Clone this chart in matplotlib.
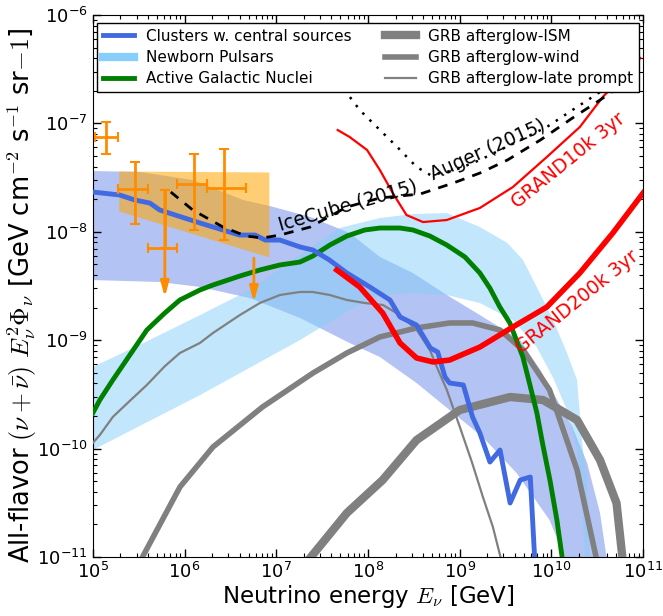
import numpy as np
import matplotlib
matplotlib.use("Agg")
import matplotlib.pyplot as plt
from matplotlib.lines import Line2D

plt.rcParams['mathtext.fontset'] = 'cm'
plt.rcParams['font.family'] = ['DejaVu Sans']
plt.rcParams['axes.unicode_minus'] = False

# ---- data (log10 E [GeV], log10 E^2 Phi [GeV cm^-2 s^-1 sr^-1]) ----
clusters_lx = [5.00, 5.29, 5.46, 5.62, 5.73, 6.17, 6.60, 6.77, 6.88, 7.04, 7.26, 7.40, 7.58, 7.77,
               8.02, 8.24, 8.35, 8.53, 8.68, 8.76, 8.84, 8.89, 9.04, 9.14, 9.22, 9.33, 9.44,
               9.55, 9.66, 9.77, 9.82]
clusters_ly = [-7.633, -7.660, -7.707, -7.734, -7.799, -7.919, -8.030, -8.030, -8.076, -8.076,
               -8.140, -8.168, -8.260, -8.380, -8.509, -8.629, -8.786, -8.860, -9.072, -9.109,
               -9.339, -9.395, -9.413, -9.708, -9.856, -10.124, -10.013, -10.502, -10.290,
               -10.262, -11.05]

clusters_band_up_lx = [5.00, 5.51, 6.09, 6.64, 6.93, 7.37, 7.80, 8.13, 8.49, 8.86, 9.22, 9.66,
                       9.88, 10.02, 10.23, 10.39, 10.53, 10.61]
clusters_band_up_ly = [-7.439, -7.448, -7.522, -7.707, -7.762, -7.863, -8.011, -8.232, -8.380,
                       -8.583, -8.768, -8.998, -9.275, -9.487, -9.801, -10.133, -10.594, -11.05]
clusters_band_lo_lx = [5.00, 5.73, 6.17, 6.71, 7.26, 7.80, 8.13, 8.53, 8.89, 9.25, 9.62, 9.98, 10.17]
clusters_band_lo_ly = [-8.445, -8.463, -8.509, -8.611, -8.795, -9.026, -9.155, -9.395, -9.644,
                       -9.893, -10.225, -10.659, -11.05]

pulsar_up_lx = [5.00, 5.62, 6.17, 6.71, 7.26, 7.69, 8.13, 8.49, 8.86, 9.22, 9.52, 9.69, 9.84,
                10.02, 10.17, 10.28, 10.34, 10.39, 10.42]
pulsar_up_ly = [-9.247, -8.998, -8.768, -8.537, -8.214, -7.965, -7.873, -7.836, -7.827, -7.956,
                -8.103, -8.260, -8.509, -8.814, -9.118, -9.367, -9.985, -10.290, -11.05]
pulsar_lo_lx = [5.00, 6.17, 7.26, 7.80, 8.13, 8.49, 8.86, 9.22, 9.58, 9.84, 10.02, 10.17, 10.28,
                10.33, 10.37]
pulsar_lo_ly = [-10.013, -9.506, -8.998, -8.721, -8.583, -8.565, -8.583, -8.657, -8.814, -9.063,
                -9.349, -9.644, -10.013, -10.474, -11.05]

agn_lx = [5.000, 5.076, 5.218, 5.403, 5.589, 5.785, 5.949, 6.167, 6.309, 6.603, 6.821, 7.039,
          7.257, 7.399, 7.584, 7.770, 7.966, 8.130, 8.348, 8.490, 8.675, 8.860, 9.057, 9.220,
          9.329, 9.438, 9.547, 9.689, 9.766, 9.842, 9.907, 9.984, 10.060, 10.125]
agn_ly = [-9.672, -9.552, -9.367, -9.137, -8.906, -8.749, -8.629, -8.537, -8.491, -8.408, -8.352,
          -8.306, -8.279, -8.223, -8.122, -8.039, -7.983, -7.965, -7.965, -7.983, -8.039, -8.122,
          -8.232, -8.380, -8.519, -8.694, -8.841, -9.155, -9.413, -9.672, -9.967, -10.290,
          -10.659, -11.05]

grb_ism_lx = [7.33, 7.77, 8.16, 8.53, 9.00, 9.55, 9.91, 10.28, 10.53, 10.71, 10.78]
grb_ism_ly = [-11.05, -10.594, -10.290, -9.921, -9.644, -9.524, -9.552, -9.736, -10.105, -10.502, -11.05]

grb_wind_lx = [5.51, 5.95, 6.31, 6.85, 7.40, 7.77, 8.13, 8.53, 8.89, 9.14, 9.44, 9.69, 9.98, 10.28, 10.50]
grb_wind_ly = [-11.05, -10.354, -9.985, -9.616, -9.303, -9.118, -8.970, -8.887, -8.841, -8.841,
               -8.906, -9.090, -9.459, -10.197, -11.05]

grb_prompt_lx = [5.000, 5.076, 5.218, 5.403, 5.589, 5.785, 5.949, 6.167, 6.309, 6.603, 6.821,
                 7.039, 7.257, 7.399, 7.584, 7.770, 7.966, 8.163, 8.348, 8.533, 8.675, 8.751,
                 8.860, 9.002, 9.133, 9.253, 9.362, 9.460]
grb_prompt_ly = [-9.948, -9.875, -9.708, -9.560, -9.413, -9.240, -9.118, -9.026, -8.934, -8.768,
                 -8.657, -8.583, -8.555, -8.555, -8.583, -8.629, -8.657, -8.675, -8.768, -8.906,
                 -9.090, -9.247, -9.459, -9.801, -10.124, -10.446, -10.723, -11.05]

grand200k_lx = [7.66, 7.91, 8.16, 8.35, 8.53, 8.71, 8.89, 9.22, 9.58, 9.95, 10.31, 10.67, 11.0]
grand200k_ly = [-8.352, -8.509, -8.749, -9.026, -9.164, -9.201, -9.183, -9.063, -8.878, -8.694,
                -8.380, -8.011, -7.642]

grand10k_lx = [7.67, 7.80, 7.99, 8.13, 8.27, 8.42, 8.60, 8.86, 9.22, 9.58, 9.95, 10.31, 10.56, 10.97]
grand10k_ly = [-7.061, -7.125, -7.245, -7.430, -7.642, -7.845, -7.910, -7.891, -7.780, -7.587,
               -7.310, -7.033, -6.756, -6.397]

limit_dashed_lx = [5.85, 6.09, 6.42, 6.67, 6.85, 7.04, 7.37, 7.77, 8.13, 8.57, 8.93, 9.22, 9.52,
                   9.88, 10.23, 10.53, 10.69]
limit_dashed_ly = [-7.633, -7.799, -7.956, -8.039, -8.057, -8.030, -7.956, -7.771, -7.688, -7.651,
                   -7.550, -7.458, -7.338, -7.153, -6.950, -6.784, -6.692]

limit_dotted_lx = [7.69, 7.77, 7.91, 8.13, 8.32, 8.53, 8.68, 8.95, 9.22, 9.66, 9.95, 10.23, 10.53]
limit_dotted_ly = [-6.600, -6.720, -6.876, -7.061, -7.218, -7.402, -7.476, -7.430, -7.338, -7.153,
                   -7.033, -6.876, -6.710]

# IceCube data points
ic_lx = [5.142, 5.458, 6.101, 6.429]
ic_lx_lo = [5.022, 5.273, 5.916, 6.243]
ic_lx_hi = [5.273, 5.600, 6.243, 6.668]
ic_ly = [-7.125, -7.605, -7.559, -7.596]
ic_ly_lo = [-7.282, -7.928, -7.983, -8.076]
ic_ly_hi = [-6.987, -7.356, -7.282, -7.236]
# upper limits
ul_lx = [5.785, 6.756]
ul_lx_lo = [5.600, None]
ul_lx_hi = [5.916, None]
ul_ly = [-8.149, -8.242]
ul_ly_top = [-7.614, -8.242]
ul_ly_arrow = [-8.601, -8.648]

# IceCube fit band
icfit_lx = [5.283, 6.919]
icfit_up_ly = [-7.439, -7.448]
icfit_lo_ly = [-7.808, -8.232]

def p(a):
    return np.power(10.0, np.asarray(a, dtype=float))

fig = plt.figure(figsize=(6.63, 6.16), dpi=100)
ax = fig.add_axes([0.140, 0.0958, 0.830, 0.8798])
ax.set_xscale('log')
ax.set_yscale('log')

# bands
cx = np.concatenate([p(clusters_band_up_lx), p(clusters_band_lo_lx)[::-1]])
cy = np.concatenate([p(clusters_band_up_ly), p(clusters_band_lo_ly)[::-1]])
ax.fill(cx, cy, color='royalblue', alpha=0.4, lw=0, zorder=1)
px = np.concatenate([p(pulsar_up_lx), p(pulsar_lo_lx)[::-1]])
py = np.concatenate([p(pulsar_up_ly), p(pulsar_lo_ly)[::-1]])
ax.fill(px, py, color='lightskyblue', alpha=0.5, lw=0, zorder=1)
ax.fill_between(p(icfit_lx), p(icfit_lo_ly), p(icfit_up_ly), color='orange', alpha=0.55, lw=0, zorder=2)

# lines
ax.plot(p(grb_ism_lx), p(grb_ism_ly), color='gray', lw=6, zorder=3)
ax.plot(p(grb_wind_lx), p(grb_wind_ly), color='gray', lw=4, zorder=3)
ax.plot(p(grb_prompt_lx), p(grb_prompt_ly), color='gray', lw=1.6, zorder=3)
ax.plot(p(agn_lx), p(agn_ly), color='green', lw=3.5, zorder=4)
ax.plot(p(clusters_lx), p(clusters_ly), color='royalblue', lw=3.5, zorder=4)
ax.plot(p(grand200k_lx), p(grand200k_ly), color='red', lw=4, zorder=5)
ax.plot(p(grand10k_lx), p(grand10k_ly), color='red', lw=1.6, zorder=5)
ax.plot(p(limit_dashed_lx), p(limit_dashed_ly), color='black', lw=2, ls=(0, (3.5, 3.0)), zorder=5)
ax.plot(p(limit_dotted_lx), p(limit_dotted_ly), color='black', lw=1.8, ls=(0, (1, 3)), zorder=5)

# IceCube points
oc = 'darkorange'
x = p(ic_lx); y = p(ic_ly)
xerr = [x - p(ic_lx_lo), p(ic_lx_hi) - x]
yerr = [y - p(ic_ly_lo), p(ic_ly_hi) - y]
ax.errorbar(x, y, xerr=xerr, yerr=yerr, fmt='none', ecolor=oc, elinewidth=2, capsize=3.5,
            capthick=1.5, zorder=6)
x0 = p(ul_lx[0]); y0 = p(ul_ly[0])
ax.errorbar([x0], [y0], xerr=[[x0 - p(ul_lx_lo[0])], [p(ul_lx_hi[0]) - x0]],
            yerr=[[0], [p(ul_ly_top[0]) - y0]], fmt='none', ecolor=oc, elinewidth=2,
            capsize=3.5, capthick=1.5, zorder=6)
for lx, top, bot in zip(ul_lx, ul_ly_top, ul_ly_arrow):
    ax.annotate('', xy=(p(lx), p(bot)), xytext=(p(lx), p(top)),
                arrowprops=dict(arrowstyle='-|>,head_length=0.9,head_width=0.25', color=oc,
                                lw=2, shrinkA=0, shrinkB=0), zorder=6)

# annotations
ax.text(p(7.78), p(-7.76), 'IceCube (2015)', rotation=16, fontsize=13.5, ha='center', va='center', zorder=7)
ax.text(p(9.31), p(-7.25), 'Auger (2015)', rotation=24, fontsize=13.5, ha='center', va='center', zorder=7)
ax.text(p(10.19), p(-7.34), 'GRAND10k 3yr', rotation=39, fontsize=13.5, color='red', ha='center', va='center', zorder=7)
ax.text(p(10.28), p(-8.65), 'GRAND200k 3yr', rotation=39, fontsize=13.5, color='red', ha='center', va='center', zorder=7)

ax.set_xlim(1e5, 1e11)
ax.set_ylim(1e-11, 1e-6)
ax.tick_params(which='both', direction='in', top=True, right=True, labelsize=13)
ax.tick_params(which='major', length=6, width=1)
ax.tick_params(which='minor', length=3, width=0.8)

ax.set_xlabel(r'Neutrino energy $E_\nu$ [GeV]', fontsize=16.5, labelpad=1)
ax.set_ylabel(r'All-flavor $(\nu+\bar{\nu})$ $E_\nu^2\Phi_\nu$ [GeV cm$^{-2}$ s$^{-1}$ sr$-1$]', fontsize=18.5)
ax.yaxis.set_label_coords(-0.097, 0.483)

handles = [
    Line2D([], [], color='royalblue', lw=3.5),
    Line2D([], [], color='lightskyblue', lw=6),
    Line2D([], [], color='green', lw=3.5),
    Line2D([], [], color='gray', lw=6),
    Line2D([], [], color='gray', lw=4),
    Line2D([], [], color='gray', lw=1.6),
]
labels = ['Clusters w. central sources', 'Newborn Pulsars', 'Active Galactic Nuclei',
          'GRB afterglow-ISM', 'GRB afterglow-wind', 'GRB afterglow-late prompt']
leg = ax.legend(handles, labels, loc='upper center', ncol=2, fontsize=11, fancybox=False,
                framealpha=1, edgecolor='black', labelspacing=0.4, columnspacing=2.2,
                handlelength=2.0, borderaxespad=0.5)
leg.set_zorder(10)
leg.get_frame().set_linewidth(1.0)

fig.savefig('out.png', dpi=100)
